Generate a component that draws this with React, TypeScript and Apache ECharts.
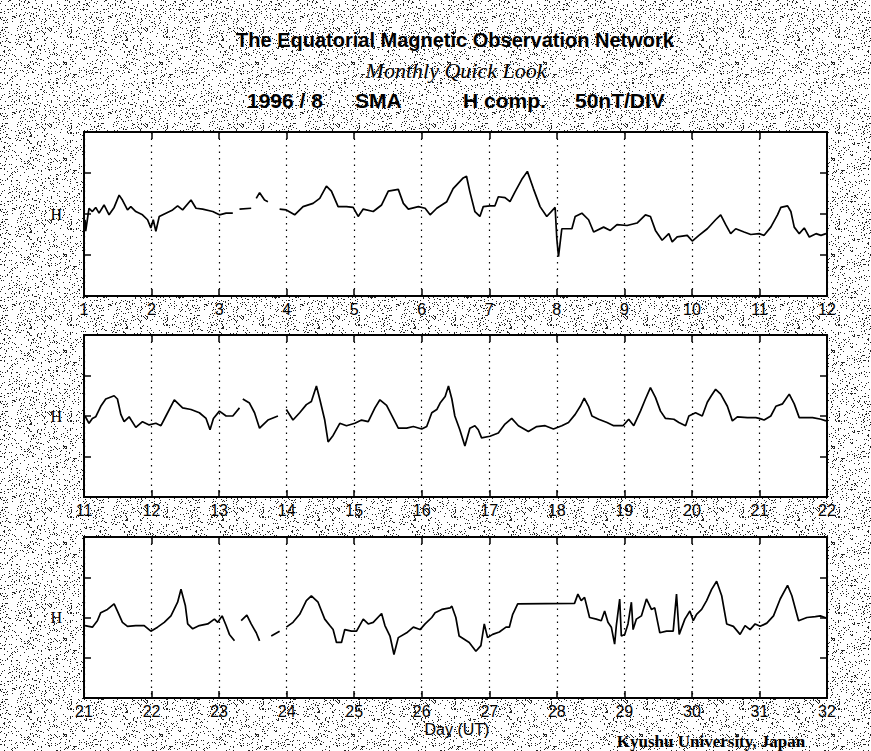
import React, { useEffect, useRef, useState } from "react";
import * as echarts from "echarts";

// ---- Data ----
const titleMain = "The Equatorial Magnetic Observation Network";
const titleSub = "Monthly Quick Look";
const headerParts = ["1996 / 8", "SMA", "H comp.", "50nT/DIV"];
const axisName = "Day (UT)";
const credit = "Kyushu University, Japan";

const panelStartDays = [1, 11, 21];
const daysPerPanel = 11;
const yMinNT = -100;
const yMaxNT = 100;
const yStepNT = 50;

type Pt = [number, number | null];

// Panel 1: days 1 - 12, H deviation in nT
const trace1: Pt[] = [
  [1.015, -7], [1.025, -21], [1.074, 7], [1.124, 3], [1.173, 8], [1.223, 1], [1.297, 11],
  [1.371, -1], [1.446, 8], [1.52, 23], [1.569, 17], [1.644, 5], [1.693, 9], [1.767, 3],
  [1.866, -1], [1.941, -7], [1.99, -17], [2.025, -7], [2.064, -21], [2.114, -3], [2.213, 1],
  [2.312, 5], [2.386, 10], [2.46, 5], [2.584, 17], [2.658, 7], [2.757, 6], [2.906, 3],
  [3.005, -1], [3.104, 1], [3.203, 1], [3.25, null], [3.302, 6], [3.475, 7], [3.51, null],
  [3.55, 19], [3.6, 26], [3.673, 17], [3.723, 15], [3.8, null], [3.896, 6], [3.995, 5],
  [4.119, -1], [4.243, 9], [4.391, 13], [4.49, 19], [4.589, 34], [4.663, 28], [4.762, 9],
  [4.886, 9], [4.985, 8], [5.059, -3], [5.134, 6], [5.282, 3], [5.406, 11], [5.505, 28],
  [5.653, 30], [5.728, 13], [5.802, 6], [5.95, 9], [6.05, 7], [6.124, -1], [6.223, 7],
  [6.371, 15], [6.465, 31], [6.614, 44], [6.663, 46], [6.713, 27], [6.787, 3], [6.861, -3],
  [6.911, 9], [7.01, 10], [7.084, 10], [7.134, 21], [7.233, 20], [7.307, 15], [7.381, 27],
  [7.48, 42], [7.564, 52], [7.653, 31], [7.752, 9], [7.851, -3], [7.975, 8], [8.0, -30],
  [8.025, -52], [8.074, -18], [8.223, -18], [8.272, -3], [8.371, 1], [8.47, -7], [8.545, -22],
  [8.693, -16], [8.792, -20], [8.891, -13], [9.04, -14], [9.188, -11], [9.312, -1], [9.386, -3],
  [9.46, -20], [9.559, -32], [9.658, -24], [9.708, -34], [9.782, -28], [9.931, -26],
  [10.005, -33], [10.104, -26], [10.228, -18], [10.351, -7], [10.426, -1], [10.5, -13],
  [10.574, -24], [10.649, -18], [10.772, -22], [10.871, -25], [10.995, -24], [11.069, -26],
  [11.168, -16], [11.267, -1], [11.317, 8], [11.416, 10], [11.465, 3], [11.515, -16],
  [11.589, -24], [11.663, -17], [11.738, -28], [11.837, -24], [11.911, -26], [11.985, -24],
];

// Panel 2: days 11 - 22
const trace2: Pt[] = [
  [11.015, 0], [11.074, -9], [11.124, -3], [11.173, -1], [11.248, 12], [11.322, 21],
  [11.446, 25], [11.495, 21], [11.545, 2], [11.594, -7], [11.668, -1], [11.767, -14],
  [11.866, -7], [11.965, -11], [12.064, -9], [12.139, -12], [12.213, 0], [12.337, 20],
  [12.46, 10], [12.584, 8], [12.708, 4], [12.807, -3], [12.866, -17], [12.916, -3],
  [13.005, 6], [13.104, 0], [13.203, 0], [13.302, 10], [13.325, null], [13.351, 21],
  [13.45, 16], [13.525, 4], [13.599, -15], [13.723, -5], [13.871, 0], [13.93, null],
  [13.995, 8], [14.094, -5], [14.193, 4], [14.292, 14], [14.366, 18], [14.441, 37],
  [14.49, 21], [14.564, -5], [14.614, -32], [14.688, -24], [14.787, -9], [14.886, -12],
  [15.01, -9], [15.109, -5], [15.208, -7], [15.307, 10], [15.381, 20], [15.48, 13],
  [15.579, -3], [15.653, -15], [15.777, -15], [15.876, -13], [16.0, -16], [16.074, -13],
  [16.149, 4], [16.223, 8], [16.272, 16], [16.347, 24], [16.396, 37], [16.446, 21],
  [16.49, 0], [16.564, -17], [16.639, -37], [16.713, -15], [16.787, -12], [16.837, -17],
  [16.886, -27], [17.01, -25], [17.134, -21], [17.233, -10], [17.332, -3], [17.431, -12],
  [17.579, -19], [17.703, -13], [17.827, -12], [17.95, -16], [18.074, -12], [18.173, -8],
  [18.272, 2], [18.347, 12], [18.406, 22], [18.47, 12], [18.52, 0], [18.619, -4],
  [18.743, -8], [18.842, -12], [18.98, -12], [19.064, -4], [19.139, -12], [19.238, 6],
  [19.312, 21], [19.386, 35], [19.46, 23], [19.535, 6], [19.609, -3], [19.733, -4],
  [19.807, -8], [19.906, -12], [19.955, 0], [20.054, 4], [20.153, 0], [20.228, 17],
  [20.287, 25], [20.351, 33], [20.426, 27], [20.525, 12], [20.599, -6], [20.673, -1],
  [20.822, -2], [20.946, -2], [20.995, -3], [21.069, -5], [21.168, 0], [21.243, 12],
  [21.342, 15], [21.441, 27], [21.515, 15], [21.589, -2], [21.663, -2], [21.787, -2],
  [21.911, -4], [21.985, -6],
];

// Panel 3: days 21 - 32
const trace3: Pt[] = [
  [21.015, -10], [21.124, -12], [21.198, -4], [21.248, 6], [21.347, 10], [21.446, 17],
  [21.495, 8], [21.569, -6], [21.644, -11], [21.767, -10], [21.891, -10], [21.99, -17],
  [22.089, -12], [22.188, -6], [22.287, 2], [22.386, 19], [22.436, 35], [22.5, 15],
  [22.535, -8], [22.609, -14], [22.708, -10], [22.832, -8], [22.931, -2], [22.98, -6],
  [23.045, 2], [23.104, -10], [23.153, -21], [23.228, -29], [23.28, null], [23.327, -4],
  [23.411, 3], [23.475, -8], [23.55, -19], [23.599, -29], [23.69, null], [23.772, -23],
  [23.896, -17], [23.95, null], [23.995, -12], [24.094, -6], [24.193, 4], [24.292, 21],
  [24.366, 27], [24.465, 19], [24.564, -2], [24.639, -10], [24.688, -15], [24.738, -31],
  [24.812, -31], [24.861, -15], [24.96, -17], [25.035, -17], [25.134, -2], [25.208, -8],
  [25.282, -6], [25.406, 5], [25.455, -10], [25.53, -23], [25.589, -46], [25.653, -25],
  [25.777, -19], [25.876, -12], [25.975, -15], [26.05, -8], [26.149, 0], [26.198, 6],
  [26.297, 10], [26.421, 12], [26.446, 14], [26.505, 0], [26.554, -23], [26.629, -27],
  [26.703, -31], [26.802, -42], [26.876, -35], [26.926, -8], [26.975, -25], [27.05, -21],
  [27.149, -18], [27.248, -12], [27.297, -12], [27.347, 4], [27.421, 17], [28.262, 17.5],
  [28.312, 29], [28.361, 21], [28.411, 25], [28.485, 0], [28.584, -2], [28.658, -4],
  [28.708, 8], [28.757, -6], [28.807, -12], [28.856, -33], [28.881, -10], [28.931, 23],
  [28.955, -23], [29.005, -21], [29.054, -8], [29.104, 19], [29.129, -15], [29.178, -2],
  [29.252, 2], [29.327, 23], [29.401, 10], [29.45, 12], [29.525, -19], [29.624, -17],
  [29.723, -17], [29.772, 29], [29.812, -21], [29.896, -2], [29.97, 8], [30.02, -4],
  [30.069, 4], [30.144, 10], [30.218, 21], [30.292, 35], [30.366, 45], [30.441, 27],
  [30.515, -8], [30.614, -11], [30.713, -21], [30.787, -10], [30.861, -15], [30.936, -8],
  [31.01, -11], [31.109, -7], [31.208, 2], [31.307, 23], [31.416, 40], [31.48, 27],
  [31.579, -4], [31.703, 0], [31.827, 1], [31.901, 2], [32.0, -1],
];

const traces = [trace1, trace2, trace3];

// ---- Layout ----
const W = 871;
const H = 751;
const gridLeft = 84;
const gridRight = 44;
const gridTops = [132, 335, 537];
const gridHeights = [164, 162, 161];

const sans = "'Liberation Sans', Arial, Helvetica, sans-serif";
const serif = "'Liberation Serif', 'Times New Roman', serif";

// deterministic halftone-like stipple tile for the page background
function makeStipple(): string {
  const size = 96;
  const c = document.createElement("canvas");
  c.width = size;
  c.height = size;
  const ctx = c.getContext("2d");
  if (!ctx) return "";
  ctx.fillStyle = "#ffffff";
  ctx.fillRect(0, 0, size, size);
  ctx.fillStyle = "#222222";
  for (let y = 0; y < size; y++) {
    for (let x = 0; x < size; x++) {
      let h = Math.imul(x + 1, 374761393) ^ Math.imul(y + 7, 668265263);
      h = Math.imul(h ^ (h >>> 13), 1274126177);
      h = (h ^ (h >>> 16)) >>> 0;
      if (h % 100 < 10) ctx.fillRect(x, y, 1, 1);
    }
  }
  return c.toDataURL("image/png");
}

export default function App() {
  const ref = useRef<HTMLDivElement | null>(null);
  const [bg, setBg] = useState<string>("");

  useEffect(() => {
    document.body.style.margin = "0";
    setBg(makeStipple());
    if (!ref.current) return;
    const chart = echarts.init(ref.current, undefined, { renderer: "svg" });

    const grids = gridTops.map((top, i) => ({
      left: gridLeft,
      right: gridRight,
      top,
      height: gridHeights[i],
      show: true,
      backgroundColor: "#ffffff",
      borderColor: "#000000",
      borderWidth: 2,
    }));

    const tickStyle = { show: true, inside: true, length: 7, lineStyle: { color: "#000", width: 1.5 } };
    const xAxes: any[] = [];
    const yAxes: any[] = [];
    const series: any[] = [];

    panelStartDays.forEach((start, i) => {
      xAxes.push({
        type: "value",
        gridIndex: i,
        position: "bottom",
        min: start,
        max: start + daysPerPanel,
        interval: 1,
        axisLine: { show: false, onZero: false },
        axisTick: tickStyle,
        axisLabel: {
          show: true,
          margin: 5,
          color: "#000",
          fontSize: 16,
          fontFamily: sans,
          showMinLabel: true,
          showMaxLabel: true,
          formatter: (v: number) => String(Math.round(v)),
        },
        splitLine: {
          show: true,
          lineStyle: { color: "#000", width: 1.2, type: [1.5, 5] },
        },
      });
      xAxes.push({
        type: "value",
        gridIndex: i,
        position: "top",
        min: start,
        max: start + daysPerPanel,
        interval: 1,
        axisLine: { show: false, onZero: false },
        axisTick: tickStyle,
        axisLabel: { show: false },
        splitLine: { show: false },
      });
      yAxes.push({
        type: "value",
        gridIndex: i,
        position: "left",
        min: yMinNT,
        max: yMaxNT,
        interval: yStepNT,
        axisLine: { show: false, onZero: false },
        axisTick: tickStyle,
        axisLabel: {
          show: true,
          margin: 22,
          color: "#000",
          fontSize: 16,
          fontFamily: serif,
          formatter: (v: number) => (v === 0 ? "H" : ""),
        },
        splitLine: { show: false },
      });
      yAxes.push({
        type: "value",
        gridIndex: i,
        position: "right",
        min: yMinNT,
        max: yMaxNT,
        interval: yStepNT,
        axisLine: { show: false, onZero: false },
        axisTick: tickStyle,
        axisLabel: { show: false },
        splitLine: { show: false },
      });
      series.push({
        type: "line",
        xAxisIndex: i * 2,
        yAxisIndex: i * 2,
        data: traces[i],
        showSymbol: false,
        symbol: "none",
        connectNulls: false,
        clip: true,
        lineStyle: { color: "#000", width: 1.7 },
        z: 5,
      });
    });

    const headerX = [247, 355, 463, 575];

    chart.setOption({
      animation: false,
      backgroundColor: "transparent",
      grid: grids,
      xAxis: xAxes,
      yAxis: yAxes,
      series,
      graphic: [
        {
          type: "text",
          x: 455,
          y: 40,
          style: { text: titleMain, fill: "#000", font: `bold 20px ${sans}`, align: "center", verticalAlign: "middle" },
        },
        {
          type: "text",
          x: 456,
          y: 70,
          style: { text: titleSub, fill: "#000", font: `italic 22px ${serif}`, align: "center", verticalAlign: "middle" },
        },
        ...headerParts.map((t, k) => ({
          type: "text",
          x: headerX[k],
          y: 100,
          style: { text: t, fill: "#000", font: `bold 21px ${sans}`, align: "left", verticalAlign: "middle" },
        })),
        {
          type: "text",
          x: 457,
          y: 729,
          style: { text: axisName, fill: "#000", font: `16px ${sans}`, align: "center", verticalAlign: "middle" },
        },
        {
          type: "text",
          x: 711,
          y: 741,
          style: { text: credit, fill: "#000", font: `bold 17px ${serif}`, align: "center", verticalAlign: "middle" },
        },
      ],
    });

    return () => {
      chart.dispose();
    };
  }, []);

  return (
    <div
      ref={ref}
      style={{
        width: W,
        height: H,
        backgroundColor: "#ffffff",
        backgroundImage: bg ? `url(${bg})` : "none",
        backgroundRepeat: "repeat",
      }}
    />
  );
}
